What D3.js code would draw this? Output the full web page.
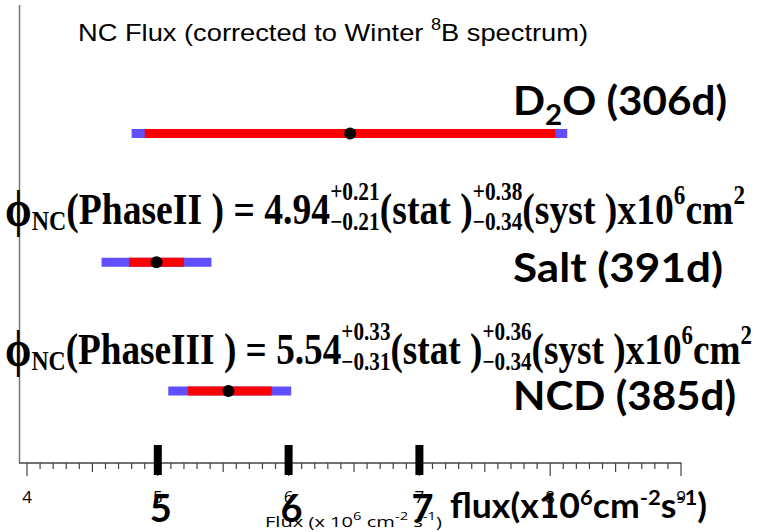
<!DOCTYPE html>
<html>
<head>
<meta charset="utf-8">
<script src="https://cdn.jsdelivr.net/npm/d3@7"></script>
<style>
  body { margin: 0; background: #fff; }
  svg { display: block; }
</style>
</head>
<body>
<div id="chart"></div>
<script>
// NC flux per phase (x10^6 cm^-2 s^-1)
var phases = ["D2O", "Salt", "NCD"];
var phaseLabels = [["D", "2", "O (306d)"], ["Salt (391d)"], ["NCD (385d)"]];
var fluxCenter = [6.47, 4.99, 5.54];
var statMinus = [1.57, 0.21, 0.31];
var statPlus = [1.57, 0.21, 0.33];
var totMinus = [1.67, 0.42, 0.46];
var totPlus = [1.66, 0.42, 0.48];

// formula lines
var formulaPhase = ["PhaseII", "PhaseIII"];
var formulaValue = ["4.94", "5.54"];
var formulaStat = [["+0.21", "\u22120.21"], ["+0.33", "\u22120.31"]];
var formulaSyst = [["+0.38", "\u22120.34"], ["+0.36", "\u22120.34"]];

// axis
var tickValues = [4, 5, 6, 7, 8, 9];
var bigTicks = [5, 6, 7];

var width = 761, height = 532;

document.addEventListener('DOMContentLoaded', function () {
    var svg = d3.select("#chart").append("svg")
        .attr("width", width)
        .attr("height", height);

    var x = d3.scaleLinear().domain([4, 9]).range([27, 681]);
    var y = d3.scaleLinear().domain([0, phases.length - 1]).range([133.5, 391]);

    // left frame line
    svg.append("line")
        .attr("x1", 19.5).attr("x2", 19.5)
        .attr("y1", 5).attr("y2", 463)
        .attr("stroke", "#777").attr("stroke-width", 1.5);

    // bottom axis with minor ticks
    var axisY = 463;
    svg.append("line")
        .attr("x1", 19).attr("x2", x(9) + 0.5)
        .attr("y1", axisY).attr("y2", axisY)
        .attr("stroke", "#444").attr("stroke-width", 1.5);

    var minor = d3.range(40, 91).map(function (d) { return d / 10; });
    svg.selectAll(".mtick")
        .data(minor)
        .enter()
        .append("line")
            .attr("class", "mtick")
            .attr("x1", function (d) { return x(d); })
            .attr("x2", function (d) { return x(d); })
            .attr("y1", axisY)
            .attr("y2", function (d, i) {
                if (i % 10 == 0) return axisY + 13;
                if (i % 5 == 0) return axisY + 9;
                return axisY + 6;
            })
            .attr("stroke", "#444").attr("stroke-width", 1.2);

    svg.selectAll(".tlabel")
        .data(tickValues)
        .enter()
        .append("text")
            .attr("class", "tlabel")
            .attr("x", function (d) { return x(d); })
            .attr("y", 503)
            .attr("text-anchor", "middle")
            .style("font-family", "'Open Sans', sans-serif")
            .style("font-size", "17px")
            .text(function (d) { return d; });

    // axis title (small)
    var at = svg.append("text")
        .attr("x", 265).attr("y", 527)
        .attr("textLength", 177).attr("lengthAdjust", "spacingAndGlyphs")
        .style("font-family", "'Open Sans', sans-serif")
        .style("font-size", "15px");
    at.append("tspan").text("Flux (x 10");
    at.append("tspan").attr("dy", -7).style("font-size", "11px").text("6");
    at.append("tspan").attr("dy", 7).text(" cm");
    at.append("tspan").attr("dy", -7).style("font-size", "11px").text("-2");
    at.append("tspan").attr("dy", 7).text(" s");
    at.append("tspan").attr("dy", -7).style("font-size", "11px").text("-1");
    at.append("tspan").attr("dy", 7).text(")");

    // thick highlighted ticks + big labels
    svg.selectAll(".btick")
        .data(bigTicks)
        .enter()
        .append("rect")
            .attr("class", "btick")
            .attr("x", function (d) { return x(d) - 4; })
            .attr("y", 445)
            .attr("width", 8)
            .attr("height", 30)
            .attr("fill", "#000");

    svg.selectAll(".blabel")
        .data(bigTicks)
        .enter()
        .append("text")
            .attr("class", "blabel")
            .attr("x", function (d) { return x(d) + 3; })
            .attr("y", 522)
            .attr("text-anchor", "middle")
            .style("font-family", "Lato, sans-serif")
            .style("font-weight", "bold")
            .style("font-size", "38px")
            .text(function (d) { return d; });

    var fl = svg.append("text")
        .attr("x", 450).attr("y", 518)
        .attr("textLength", 257).attr("lengthAdjust", "spacingAndGlyphs")
        .style("font-family", "Lato, sans-serif")
        .style("font-weight", "bold")
        .style("font-size", "34px");
    fl.append("tspan").text("flux(x10");
    fl.append("tspan").attr("dy", -13).style("font-size", "21px").text("6");
    fl.append("tspan").attr("dy", 13).text("cm");
    fl.append("tspan").attr("dy", -13).style("font-size", "21px").text("-2");
    fl.append("tspan").attr("dy", 13).text("s");
    fl.append("tspan").attr("dy", -13).style("font-size", "21px").text("-1");
    fl.append("tspan").attr("dy", 13).text(")");

    // chart title
    var tt = svg.append("text")
        .attr("x", 78).attr("y", 41)
        .attr("textLength", 510).attr("lengthAdjust", "spacingAndGlyphs")
        .style("font-family", "'Liberation Sans', Arial, sans-serif")
        .style("font-size", "24px");
    tt.append("tspan").text("NC Flux (corrected to Winter ");
    tt.append("tspan").attr("dy", -11).style("font-size", "16px").text("8");
    tt.append("tspan").attr("dy", 11).text("B spectrum)");

    // error bars: total (blue) behind stat (red)
    var barH = 9;
    svg.selectAll(".tot")
        .data(phases)
        .enter()
        .append("rect")
            .attr("class", "tot")
            .attr("x", function (d, i) { return x(fluxCenter[i] - totMinus[i]); })
            .attr("y", function (d, i) { return y(i) - barH / 2; })
            .attr("width", function (d, i) { return x(fluxCenter[i] + totPlus[i]) - x(fluxCenter[i] - totMinus[i]); })
            .attr("height", barH)
            .attr("fill", "#5f4fff");

    svg.selectAll(".stat")
        .data(phases)
        .enter()
        .append("rect")
            .attr("class", "stat")
            .attr("x", function (d, i) { return x(fluxCenter[i] - statMinus[i]); })
            .attr("y", function (d, i) { return y(i) - barH / 2; })
            .attr("width", function (d, i) { return x(fluxCenter[i] + statPlus[i]) - x(fluxCenter[i] - statMinus[i]); })
            .attr("height", barH)
            .attr("fill", "#ff0000");

    svg.selectAll(".pt")
        .data(phases)
        .enter()
        .append("circle")
            .attr("class", "pt")
            .attr("cx", function (d, i) { return x(fluxCenter[i]); })
            .attr("cy", function (d, i) { return y(i); })
            .attr("r", 6)
            .attr("fill", "#000");

    // phase labels
    var labelY = [115, 282, 410];
    var labelW = [214, 210, 223];
    phaseLabels.forEach(function (parts, i) {
        var t = svg.append("text")
            .attr("x", 513).attr("y", labelY[i])
            .attr("textLength", labelW[i]).attr("lengthAdjust", "spacingAndGlyphs")
            .style("font-family", "Lato, sans-serif")
            .style("font-weight", "bold")
            .style("font-size", "40px");
        if (parts.length == 1) {
            t.text(parts[0]);
        } else {
            t.append("tspan").text(parts[0]);
            t.append("tspan").attr("dy", 10).style("font-size", "28px").text(parts[1]);
            t.append("tspan").attr("dy", -10).text(parts[2]);
        }
    });

    // formula lines
    var formulaBase = [224, 364];
    var formulaRight = [745, 752];
    formulaPhase.forEach(function (ph, i) {
        drawFormula(svg, i, 5, formulaBase[i], formulaRight[i]);
    });
});

function drawFormula(svg, i, left, baseline, right) {
    var g = svg.append("g")
        .style("font-family", "'Liberation Serif', 'Times New Roman', serif")
        .style("font-weight", "bold");
    var cx = 0;

    function piece(txt, size, dy) {
        var t = g.append("text")
            .attr("x", cx).attr("y", dy)
            .style("font-size", size + "px")
            .text(txt);
        cx += t.node().getComputedTextLength();
    }
    function stack(pair, size) {
        var a = g.append("text").attr("x", cx).attr("y", -24)
            .style("font-size", size + "px").text(pair[0]);
        var b = g.append("text").attr("x", cx).attr("y", 6)
            .style("font-size", size + "px").text(pair[1]);
        cx += Math.max(a.node().getComputedTextLength(), b.node().getComputedTextLength());
    }

    piece("\u03d5", 50, 2);
    piece("NC", 28, 6);
    piece("(" + formulaPhase[i] + " ) = " + formulaValue[i], 44, 0);
    stack(formulaStat[i], 25);
    piece("(stat )", 44, 0);
    stack(formulaSyst[i], 25);
    piece("(syst )x10", 44, 0);
    piece("6", 27, -20);
    piece(" cm", 44, 0);
    piece("2", 27, -20);

    var sx = (right - left) / cx;
    g.attr("transform", "translate(" + left + "," + baseline + ") scale(" + sx + ",1)");
}
</script>
</body>
</html>
